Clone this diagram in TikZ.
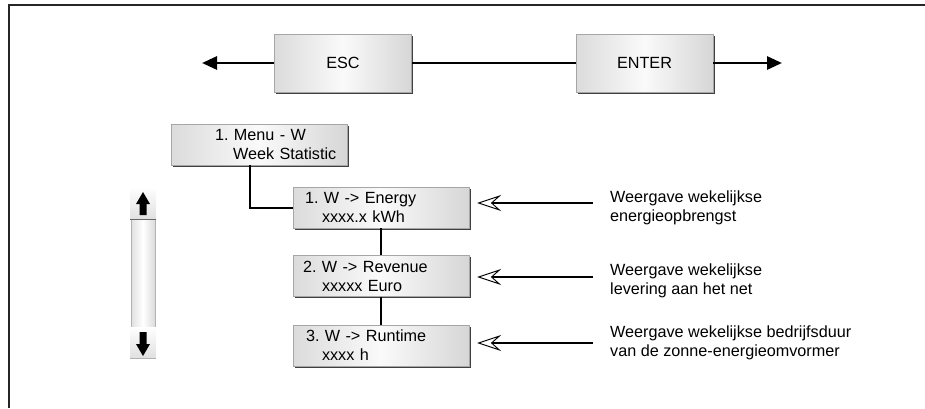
\documentclass[tikz,border=0pt]{standalone}
\usepackage{fontspec}
\setmainfont{Liberation Sans}
\usetikzlibrary{arrows.meta,shadows,calc}
\frenchspacing

\begin{document}
\begin{tikzpicture}[x=1pt, y=-1pt,
	font=\fontsize{16.2}{19}\selectfont,
	key/.style={draw=black!35, line width=0.4pt,
		left color=black!14, right color=black!16, middle color=black!2,
		drop shadow={shadow xshift=1.6pt, shadow yshift=-1.6pt, fill=black!75, opacity=1},
		minimum width=137pt, minimum height=58pt, inner sep=0pt},
	screen/.style={key, minimum width=176pt, minimum height=41pt, text width=176pt, align=left},
	link/.style={line width=2pt},
	pointer/.style={line width=2pt,
		-{Stealth[open, length=24pt, width=16pt, inset=9pt, line width=0.9pt]}},
	note/.style={anchor=west, inner sep=0pt, align=left}]

	% ---- page

	\useasboundingbox (0,0) rectangle (925,408);
	\draw[line width=1.6pt, black!85] (9,408) -- (9,5) -- (925,5);

	% ---- keys

	\node[key] (esc) at (343,63) {ESC};
	\node[key] (enter) at (644.5,63) {ENTER};

	\coordinate (escend) at (202,63);
	\coordinate (enterend) at (782,63);

	\draw[link, line width=2.8pt, -{Triangle[length=15pt, width=13pt]}] (esc.west) -- (escend);
	\draw[link, line width=2.8pt] (esc.east) -- (enter.west);
	\draw[link, line width=2.8pt, -{Triangle[length=15pt, width=13pt]}] (enter.east) -- (enterend);

	% ---- menu screens

	\node[screen] (menu) at (259,144.5) {\hspace*{44pt}1. Menu - W\\\hspace*{62pt}Week Statistic};

	\node[screen] (energy) at (381,207.5) {\hspace*{12pt}1. W -> Energy\\\hspace*{29pt}xxxx.x kWh};
	\node[screen] (revenue) at (381,276) {\hspace*{10pt}2. W -> Revenue\\\hspace*{29pt}xxxxx Euro};
	\node[screen] (runtime) at (381,345.5) {\hspace*{13pt}3. W -> Runtime\\\hspace*{29pt}xxxx h};

	% ---- screen links

	\draw[link] ($(menu.south west)!0.45!(menu.south east)$) |- (energy.west);
	\draw[link] (energy.south) -- (revenue.north);
	\draw[link] (revenue.south) -- (runtime.north);

	% ---- descriptions

	\node[note] (descA) at (610,207.5) {Weergave wekelijkse\\energieopbrengst};
	\node[note] (descB) at (610,281) {Weergave wekelijkse\\levering aan het net};
	\node[note] (descC) at (610,342.5) {Weergave wekelijkse bedrijfsduur\\van de zonne-energieomvormer};

	\draw[pointer] ($(descA.west |- energy.east)+(-17,-4.5)$) -- ($(energy.east)+(8,-4.5)$);
	\draw[pointer] ($(descB.west |- revenue.east)+(-17,1)$) -- ($(revenue.east)+(8,1)$);
	\draw[pointer] ($(descC.west |- runtime.east)+(-17,-2.5)$) -- ($(runtime.east)+(8,-2.5)$);

	% ---- scroll bar

	\shade[left color=black!12, right color=black!14, middle color=white] (131,219) rectangle (155,327);
	\draw[black!30, line width=0.4pt] (131,219) rectangle (155,327);

	\shade[top color=white, bottom color=black!12] (130,187) rectangle (156,219);
	\draw[black!60, line width=0.8pt] (130,219) -- (156,219);
	\shade[top color=white, bottom color=black!12] (130,327) rectangle (156,358);
	\draw[black!30, line width=0.6pt] (130,358) -- (156,358);

	\fill (143,192) -- (150,204) -- (146.5,204) -- (146.5,215) -- (139.5,215) -- (139.5,204) -- (136,204) -- cycle;
	\fill (143,356) -- (150,344) -- (146.5,344) -- (146.5,332) -- (139.5,332) -- (139.5,344) -- (136,344) -- cycle;

\end{tikzpicture}
\end{document}
